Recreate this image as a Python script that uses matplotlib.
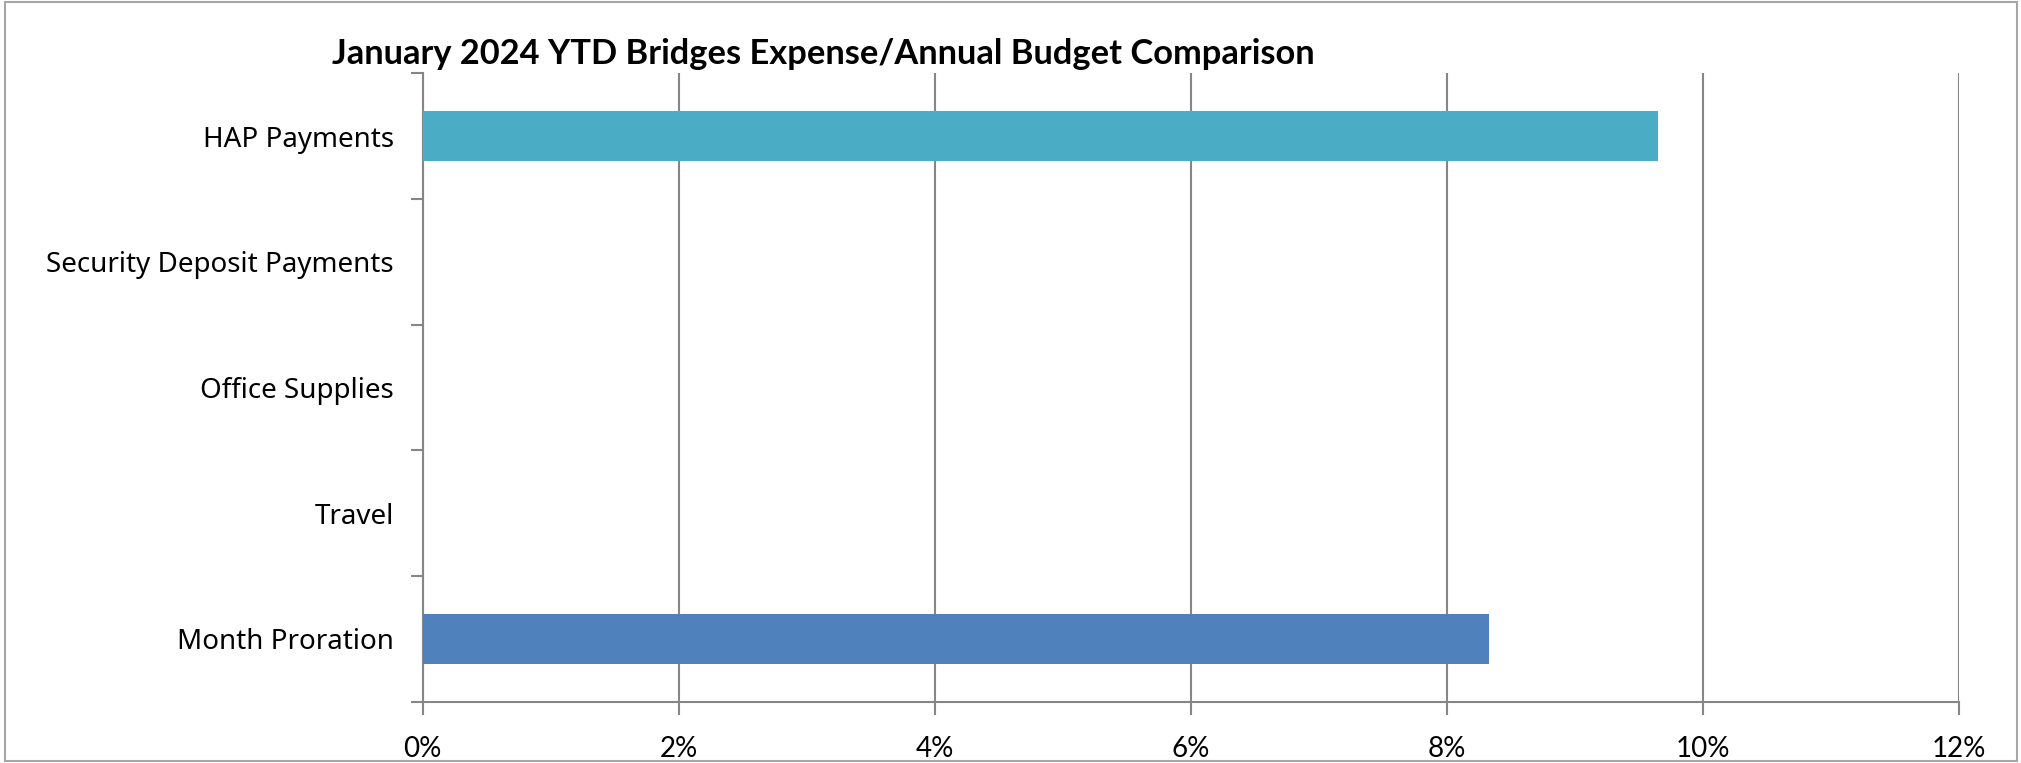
import numpy as np
import matplotlib.pyplot as plt
from matplotlib.ticker import FixedLocator, PercentFormatter

# Data
# ----------------------------------------------------------------------------------------------
categories = ['HAP Payments', 'Security Deposit Payments', 'Office Supplies', 'Travel', 'Month Proration']
values = [9.65, 0.0, 0.0, 0.0, 8.33]  # [%] YTD expense / annual budget
bar_colors = ['#4BACC6', '#4BACC6', '#4BACC6', '#4BACC6', '#4F81BD']
xticks = [0, 2, 4, 6, 8, 10, 12]
title_str = 'January 2024 YTD Bridges Expense/Annual Budget Comparison'

grey = '#868686'

# Figure
# ----------------------------------------------------------------------------------------------
fig = plt.figure(figsize=(20.21, 7.63), dpi=100)
fig.patch.set_facecolor('white')
# outer chart border
fig.add_artist(plt.Rectangle((0.0025, 0.003), 0.9955, 0.994, transform=fig.transFigure,
                             fill=False, edgecolor='#a6a6a6', linewidth=1.5))

ax = fig.add_axes([0.2092, 0.0803, 0.7601, 0.8234])
ypos = np.arange(len(categories))
ax.barh(ypos, values, height=0.40, color=bar_colors, zorder=3)

ax.set_xlim(0, 12)
ax.set_ylim(len(categories) - 0.5, -0.5)
ax.set_xticks(xticks)
ax.xaxis.set_major_formatter(PercentFormatter(decimals=0))
ax.grid(axis='x', color=grey, linewidth=1.5, zorder=0)

ax.set_yticks(ypos)
ax.set_yticklabels(categories)
ax.yaxis.set_minor_locator(FixedLocator(np.arange(-0.5, len(categories), 1.0)))
ax.tick_params(axis='y', which='major', length=0, pad=21, labelsize=20)
ax.tick_params(axis='y', which='minor', length=9, width=1.5, color=grey)
ax.tick_params(axis='x', length=9, width=1.5, color=grey, pad=16, labelsize=20)
for lab in ax.get_yticklabels():
    lab.set_fontfamily(['Noto Sans', 'DejaVu Sans'])
for lab in ax.get_xticklabels():
    lab.set_fontfamily(['Lato', 'DejaVu Sans'])

for side in ['top', 'right']:
    ax.spines[side].set_visible(False)
for side in ['left', 'bottom']:
    ax.spines[side].set_color(grey)
    ax.spines[side].set_linewidth(1.5)

fig.text(0.1643, 0.929, title_str, fontsize=24.75, fontweight='bold',
         family=['Lato', 'DejaVu Sans'], va='center', ha='left')

plt.savefig('out.png', dpi=100)
plt.close(fig)
